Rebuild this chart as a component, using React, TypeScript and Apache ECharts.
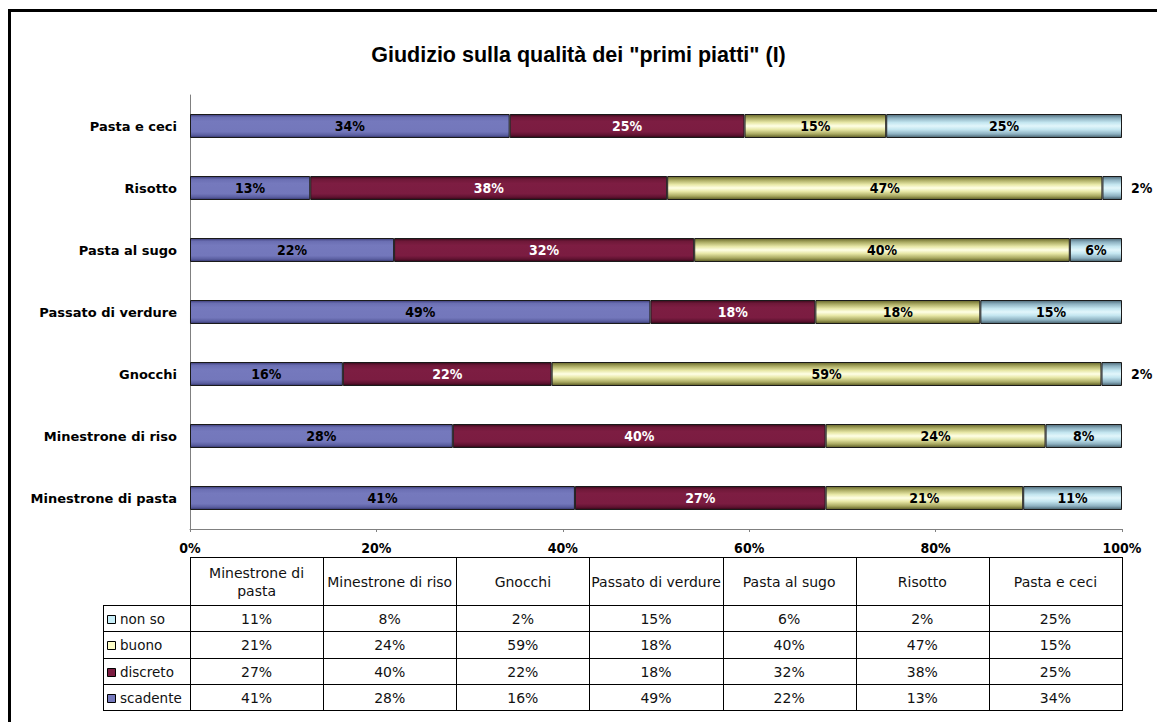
import React, { useEffect, useRef } from "react";
import * as echarts from "echarts";

const title = 'Giudizio sulla qualità dei "primi piatti" (I)';
const categories = [
  "Minestrone di pasta",
  "Minestrone di riso",
  "Gnocchi",
  "Passato di verdure",
  "Pasta al sugo",
  "Risotto",
  "Pasta e ceci",
];
const scadente = [41.3, 28.2, 16.4, 49.4, 21.9, 12.9, 34.3];
const discreto = [26.9, 40.0, 22.4, 17.7, 32.2, 38.3, 25.2];
const buono = [21.2, 23.6, 59.0, 17.7, 40.3, 46.7, 15.2];
const nonSo = [10.6, 8.2, 2.2, 15.2, 5.6, 2.1, 25.3];
const seriesNames = ["scadente", "discreto", "buono", "non so"];
const xTickStep = 20;

const W = 1157;
const H = 722;
const PLOT_L = 190;
const PLOT_R = 1122;
const PLOT_T = 95;
const PLOT_B = 529;

const BAR_FONT = "'DejaVu Sans Condensed', 'DejaVu Sans', sans-serif";
const CAT_FONT = "'DejaVu Sans', Verdana, sans-serif";

function grad(stops: [number, string][]) {
  return new echarts.graphic.LinearGradient(
    0, 0, 0, 1,
    stops.map(([offset, color]) => ({ offset, color }))
  );
}

const fills = [
  grad([[0, "#3c3c78"], [0.12, "#6a6eb2"], [0.3, "#7579bd"], [0.75, "#7377bb"], [0.9, "#5a5ea0"], [1, "#34346c"]]),
  grad([[0, "#3a0a1c"], [0.12, "#6e1838"], [0.3, "#7d1d42"], [0.75, "#7b1c41"], [0.9, "#5e1230"], [1, "#2e0615"]]),
  grad([[0, "#66662a"], [0.15, "#a8a860"], [0.35, "#e8e8a8"], [0.5, "#ffffe6"], [0.65, "#e8e8a8"], [0.85, "#a8a860"], [1, "#5a5a24"]]),
  grad([[0, "#4e6a78"], [0.15, "#8cb0c0"], [0.35, "#c4e6f0"], [0.5, "#e2f6fb"], [0.65, "#c4e6f0"], [0.85, "#8cb0c0"], [1, "#46606c"]]),
];
const keyColors = ["#7579bd", "#7b1c41", "#ffffc8", "#c8eef8"];
const labelColors = ["#000", "#fff", "#000", "#000"];

function wrapLabel(s: string) {
  if (s.length <= 18) return s;
  const i = s.lastIndexOf(" ");
  return s.slice(0, i) + "\n" + s.slice(i + 1);
}

export default function App() {
  const ref = useRef<HTMLDivElement>(null);

  useEffect(() => {
    if (!ref.current) return;
    const chart = echarts.init(ref.current, undefined, { renderer: "svg" });
    const raw = [scadente, discreto, buono, nonSo];
    const totals = categories.map((_, i) => raw.reduce((s, a) => s + a[i], 0));

    const series = raw.map((arr, si) => ({
      name: seriesNames[si],
      type: "bar",
      stack: "total",
      barWidth: 24,
      itemStyle: { color: fills[si], borderColor: "#1a1a1a", borderWidth: 1 },
      label: {
        show: true,
        position: "inside",
        color: labelColors[si],
        fontFamily: BAR_FONT,
        fontWeight: "bold",
        fontSize: 14,
        formatter: (p: any) => Math.round(arr[p.dataIndex]) + "%",
      },
      data: arr.map((v, i) => {
        const pv = (v / totals[i]) * 100;
        if (v < 4) {
          return {
            value: pv,
            label: { position: "right", distance: 9, color: "#000" },
          };
        }
        return pv;
      }),
    }));

    // data table
    const colW = (PLOT_R - PLOT_L) / categories.length;
    const headTop = 557;
    const rowTop = 605;
    const rowH = 26.25;
    const legL = 103;
    const g: any[] = [];
    const lineStyle = { stroke: "#000", lineWidth: 1 };
    const crisp = (v: number) => Math.round(v) + 0.5;
    const TABLE_FONT = `14px ${CAT_FONT}`;

    g.push({
      type: "rect",
      shape: { x: 9.5, y: 10.5, width: 1300, height: 900 },
      style: { fill: "none", stroke: "#000", lineWidth: 3 },
      silent: true,
    });
    g.push({
      type: "line",
      shape: { x1: PLOT_L, y1: crisp(headTop), x2: PLOT_R + 1, y2: crisp(headTop) },
      style: lineStyle,
    });
    for (let c = 0; c <= categories.length; c++) {
      const x = crisp(PLOT_L + c * colW);
      g.push({
        type: "line",
        shape: { x1: x, y1: headTop, x2: x, y2: rowTop + 4 * rowH + 1 },
        style: lineStyle,
      });
    }
    g.push({
      type: "line",
      shape: { x1: crisp(legL), y1: rowTop, x2: crisp(legL), y2: rowTop + 4 * rowH + 1 },
      style: lineStyle,
    });
    for (let r = 0; r <= 4; r++) {
      const y = crisp(rowTop + r * rowH);
      g.push({
        type: "line",
        shape: { x1: legL, y1: y, x2: PLOT_R + 1, y2: y },
        style: lineStyle,
      });
    }
    categories.forEach((cat, c) => {
      g.push({
        type: "text",
        x: PLOT_L + c * colW + colW / 2,
        y: (headTop + rowTop) / 2 + 1,
        style: {
          text: wrapLabel(cat),
          font: TABLE_FONT,
          fill: "#111",
          align: "center",
          verticalAlign: "middle",
          lineHeight: 18,
        },
      });
    });
    const rowOrder = [3, 2, 1, 0];
    rowOrder.forEach((si, r) => {
      const cy = rowTop + r * rowH + rowH / 2 + 1;
      g.push({
        type: "rect",
        shape: { x: 107.5, y: Math.round(cy - 4) + 0.5, width: 8, height: 8 },
        style: { fill: keyColors[si], stroke: "#000", lineWidth: 1 },
      });
      g.push({
        type: "text",
        x: 120,
        y: cy,
        style: {
          text: seriesNames[si],
          font: `13.5px ${CAT_FONT}`,
          fill: "#111",
          align: "left",
          verticalAlign: "middle",
        },
      });
      raw[si].forEach((v, c) => {
        g.push({
          type: "text",
          x: PLOT_L + c * colW + colW / 2,
          y: cy,
          style: {
            text: Math.round(v) + "%",
            font: TABLE_FONT,
            fill: "#111",
            align: "center",
            verticalAlign: "middle",
          },
        });
      });
    });

    chart.setOption({
      animation: false,
      backgroundColor: "#fff",
      title: {
        text: title,
        left: "center",
        top: 39,
        textStyle: {
          fontFamily: "'Liberation Sans', Arial, sans-serif",
          fontWeight: "bold",
          fontSize: 21.5,
          color: "#000",
        },
      },
      grid: {
        left: PLOT_L,
        right: W - PLOT_R,
        top: PLOT_T,
        bottom: H - PLOT_B,
        containLabel: false,
      },
      xAxis: {
        type: "value",
        min: 0,
        max: 100,
        interval: xTickStep,
        axisLine: { show: true, lineStyle: { color: "#808080", width: 1 } },
        axisTick: { show: true, length: 3, lineStyle: { color: "#808080" } },
        splitLine: { show: false },
        axisLabel: {
          formatter: "{value}%",
          margin: 12,
          color: "#000",
          fontFamily: BAR_FONT,
          fontWeight: "bold",
          fontSize: 14,
        },
      },
      yAxis: {
        type: "category",
        data: categories,
        axisLine: { show: true, lineStyle: { color: "#808080", width: 1 } },
        axisTick: { show: false },
        axisLabel: {
          margin: 13,
          color: "#000",
          fontFamily: CAT_FONT,
          fontWeight: "bold",
          fontSize: 13,
        },
      },
      series,
      graphic: g,
    });
    return () => chart.dispose();
  }, []);

  return (
    <div
      ref={ref}
      style={{ position: "absolute", left: 0, top: 0, width: W, height: H }}
    />
  );
}
